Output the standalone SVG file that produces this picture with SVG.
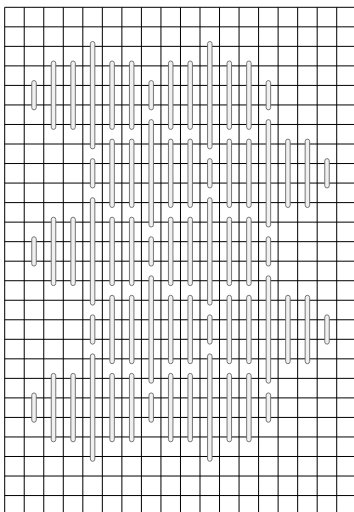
<svg xmlns="http://www.w3.org/2000/svg" xmlns:xlink="http://www.w3.org/1999/xlink" width="354" height="512" viewBox="0 0 354 512">
<style>
.grid{stroke:#000;stroke-width:1;fill:none}
.bar{fill:#f0f0f0;stroke:#666;stroke-width:0.9}
</style>
<defs>
<rect id="S" class="bar" x="-2.25" y="-14.65" width="4.5" height="29.3" rx="2.25"/>
<rect id="M" class="bar" x="-2.25" y="-34.2" width="4.5" height="68.4" rx="2.25"/>
<rect id="L" class="bar" x="-2.25" y="-53.7" width="4.5" height="107.4" rx="2.25"/>
</defs>
<rect width="354" height="512" fill="#fff"/>
<g id="grid" class="grid">
<path d="M4.7 7.3V512M24.23 7.3V512M43.76 7.3V512M63.29 7.3V512M82.82 7.3V512M102.35 7.3V512M121.88 7.3V512M141.41 7.3V512M160.94 7.3V512M180.47 7.3V512M200 7.3V512M219.53 7.3V512M239.06 7.3V512M258.59 7.3V512M278.12 7.3V512M297.65 7.3V512M317.18 7.3V512M336.71 7.3V512"/>
<path d="M4.7 7.3H354M4.7 26.83H354M4.7 46.36H354M4.7 65.89H354M4.7 85.42H354M4.7 104.95H354M4.7 124.48H354M4.7 144.01H354M4.7 163.54H354M4.7 183.07H354M4.7 202.6H354M4.7 222.13H354M4.7 241.66H354M4.7 261.19H354M4.7 280.72H354M4.7 300.25H354M4.7 319.78H354M4.7 339.31H354M4.7 358.84H354M4.7 378.37H354M4.7 397.9H354M4.7 417.43H354M4.7 436.96H354M4.7 456.49H354M4.7 476.02H354M4.7 495.55H354"/>
</g>
<g id="bars">
<g id="rowA1" transform="translate(0 95.2)">
<use href="#S" x="34"/><use href="#M" x="53.5"/><use href="#M" x="73.1"/><use href="#L" x="92.6"/><use href="#M" x="112.1"/><use href="#M" x="131.7"/><use href="#S" x="151.2"/><use href="#M" x="170.7"/><use href="#M" x="190.2"/><use href="#L" x="209.8"/><use href="#M" x="229.3"/><use href="#M" x="248.9"/><use href="#S" x="268.4"/>
</g>
<g id="rowB1" transform="translate(0 173.3)">
<use href="#S" x="92.6"/><use href="#M" x="112.1"/><use href="#M" x="131.7"/><use href="#L" x="151.2"/><use href="#M" x="170.7"/><use href="#M" x="190.2"/><use href="#S" x="209.8"/><use href="#M" x="229.3"/><use href="#M" x="248.9"/><use href="#L" x="268.4"/><use href="#M" x="287.9"/><use href="#M" x="307.4"/><use href="#S" x="327"/>
</g>
<g id="rowA2" transform="translate(0 251.4)">
<use href="#S" x="34"/><use href="#M" x="53.5"/><use href="#M" x="73.1"/><use href="#L" x="92.6"/><use href="#M" x="112.1"/><use href="#M" x="131.7"/><use href="#S" x="151.2"/><use href="#M" x="170.7"/><use href="#M" x="190.2"/><use href="#L" x="209.8"/><use href="#M" x="229.3"/><use href="#M" x="248.9"/><use href="#S" x="268.4"/>
</g>
<g id="rowB2" transform="translate(0 329.5)">
<use href="#S" x="92.6"/><use href="#M" x="112.1"/><use href="#M" x="131.7"/><use href="#L" x="151.2"/><use href="#M" x="170.7"/><use href="#M" x="190.2"/><use href="#S" x="209.8"/><use href="#M" x="229.3"/><use href="#M" x="248.9"/><use href="#L" x="268.4"/><use href="#M" x="287.9"/><use href="#M" x="307.4"/><use href="#S" x="327"/>
</g>
<g id="rowA3" transform="translate(0 407.6)">
<use href="#S" x="34"/><use href="#M" x="53.5"/><use href="#M" x="73.1"/><use href="#L" x="92.6"/><use href="#M" x="112.1"/><use href="#M" x="131.7"/><use href="#S" x="151.2"/><use href="#M" x="170.7"/><use href="#M" x="190.2"/><use href="#L" x="209.8"/><use href="#M" x="229.3"/><use href="#M" x="248.9"/><use href="#S" x="268.4"/>
</g>
</g>
</svg>
